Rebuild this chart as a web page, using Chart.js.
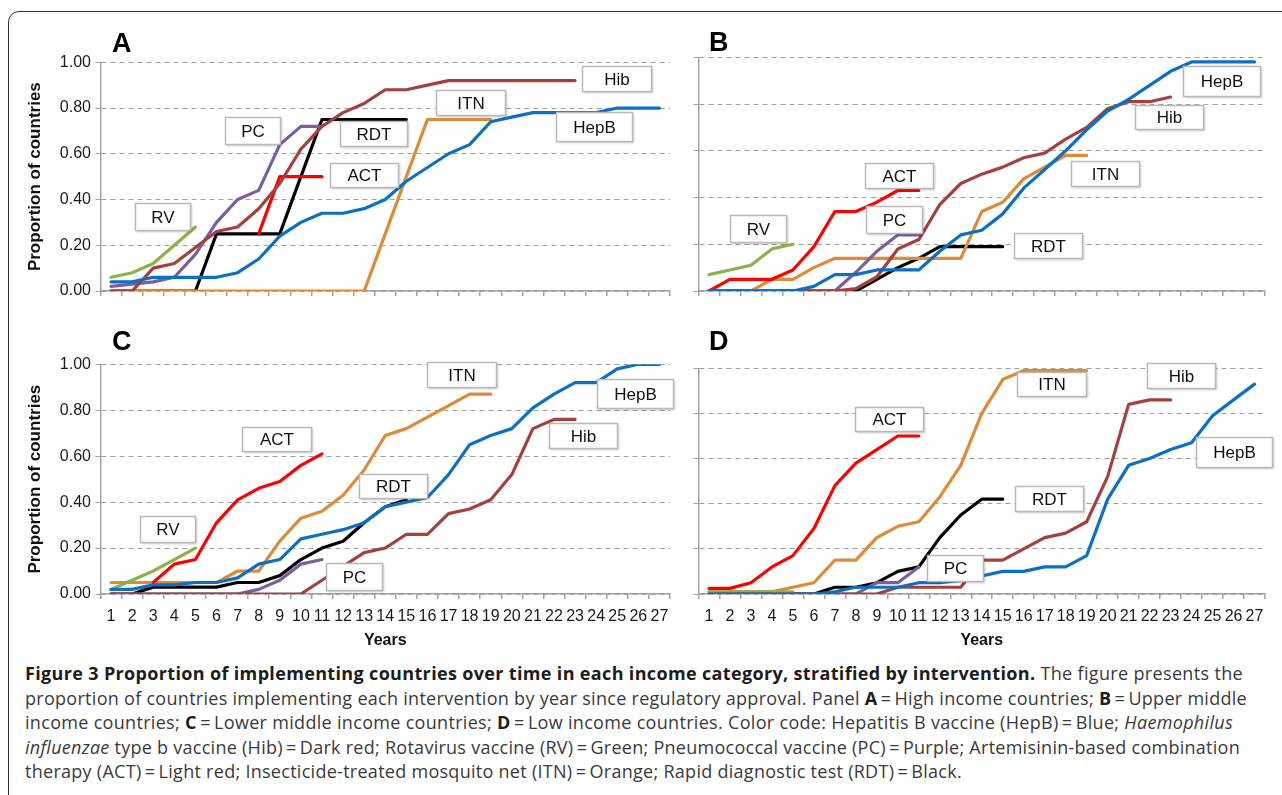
<!DOCTYPE html>
<html>
<head>
<meta charset="utf-8">
<script src="https://cdn.jsdelivr.net/npm/chart.js@4.4.1/dist/chart.umd.min.js"></script>
<style>
  html, body { margin: 0; padding: 0; background: #fff; }
  body { width: 1282px; height: 795px; position: relative; overflow: hidden; }
  .frame { position: absolute; left: 8px; top: 11px; width: 1400px; height: 900px;
           border: 1.5px solid #333; border-radius: 11px; }
  canvas { position: absolute; }
  .caption { position: absolute; left: 25px; top: 661px; font-family: 'Open Sans', sans-serif;
             font-size: 18px; color: #3a3a3a; line-height: 24.5px; }
  .caption span { display: inline-block; white-space: nowrap; }
  .caption b { color: #1c1c1c; }
</style>
</head>
<body>
<div class="frame"></div>
<canvas id="panelA"></canvas>
<canvas id="panelB"></canvas>
<canvas id="panelC"></canvas>
<canvas id="panelD"></canvas>
<div class="caption">
  <span><b>Figure 3 Proportion of implementing countries over time in each income category, stratified by intervention.</b> The figure presents the</span><br>
  <span>proportion of countries implementing each intervention by year since regulatory approval. Panel <b>A</b>&#8201;=&#8201;High income countries; <b>B</b>&#8201;=&#8201;Upper middle</span><br>
  <span>income countries; <b>C</b>&#8201;=&#8201;Lower middle income countries; <b>D</b>&#8201;=&#8201;Low income countries. Color code: Hepatitis B vaccine (HepB)&#8201;=&#8201;Blue; <i>Haemophilus</i></span><br>
  <span><i>influenzae</i> type b vaccine (Hib)&#8201;=&#8201;Dark red; Rotavirus vaccine (RV)&#8201;=&#8201;Green; Pneumococcal vaccine (PC)&#8201;=&#8201;Purple; Artemisinin-based combination</span><br>
  <span>therapy (ACT)&#8201;=&#8201;Light red; Insecticide-treated mosquito net (ITN)&#8201;=&#8201;Orange; Rapid diagnostic test (RDT)&#8201;=&#8201;Black.</span>
</div>
<script>
// Years since regulatory approval
const years = ['1', '2', '3', '4', '5', '6', '7', '8', '9', '10', '11', '12', '13', '14',
  '15', '16', '17', '18', '19', '20', '21', '22', '23', '24', '25', '26', '27'];
const yTicks = [0, 0.2, 0.4, 0.6, 0.8, 1.0];

// Panel A - high income
const hepbA = [0.04, 0.04, 0.06, 0.06, 0.06, 0.06, 0.08, 0.14, 0.24, 0.30, 0.34, 0.34, 0.36, 0.40,
  0.48, 0.54, 0.60, 0.64, 0.74, 0.76, 0.78, 0.78, 0.78, 0.78, 0.80, 0.80, 0.80];
const hibA = [0, 0, 0.10, 0.12, 0.19, 0.26, 0.28, 0.36, 0.47, 0.62, 0.72, 0.78, 0.82, 0.88, 0.88,
  0.90, 0.92, 0.92, 0.92, 0.92, 0.92, 0.92, 0.92];
const rvA = [0.06, 0.08, 0.12, 0.20, 0.28];
const pcA = [0.02, 0.03, 0.04, 0.06, 0.16, 0.30, 0.40, 0.44, 0.64, 0.72, 0.72];
const actA = [null, null, null, null, null, null, null, 0.25, 0.50, 0.50, 0.50];
const itnA = [0, 0, 0, 0, 0, 0, 0, 0, 0, 0, 0, 0, 0, 0.25, 0.50, 0.75, 0.75, 0.75, 0.75];
const rdtA = [0, 0, 0, 0, 0, 0.25, 0.25, 0.25, 0.25, 0.50, 0.75, 0.75, 0.75, 0.75, 0.75];

// Panel B - upper middle income
const hepbB = [0, 0, 0, 0, 0, 0.02, 0.07, 0.07, 0.09, 0.09, 0.09, 0.17, 0.24, 0.26, 0.33, 0.44,
  0.52, 0.60, 0.69, 0.77, 0.82, 0.88, 0.94, 0.98, 0.98, 0.98, 0.98];
const hibB = [0, 0, 0, 0, 0, 0, 0, 0.01, 0.06, 0.18, 0.22, 0.37, 0.46, 0.50, 0.53, 0.57, 0.59,
  0.65, 0.70, 0.78, 0.81, 0.81, 0.83];
const rvB = [0.07, 0.09, 0.11, 0.18, 0.20];
const pcB = [0, 0, 0, 0, 0, 0, 0, 0.08, 0.17, 0.24, 0.24];
const actB = [0, 0.05, 0.05, 0.05, 0.09, 0.19, 0.34, 0.34, 0.38, 0.43, 0.43];
const itnB = [null, null, 0, 0.05, 0.05, 0.10, 0.14, 0.14, 0.14, 0.14, 0.14, 0.14, 0.14, 0.34,
  0.38, 0.48, 0.53, 0.58, 0.58];
const rdtB = [0, 0, 0, 0, 0, 0, 0, 0, 0.05, 0.10, 0.14, 0.19, 0.19, 0.19, 0.19];

// Panel C - lower middle income
const hepbC = [0.02, 0.02, 0.04, 0.04, 0.05, 0.05, 0.07, 0.13, 0.15, 0.24, 0.26, 0.28, 0.31, 0.38,
  0.40, 0.42, 0.52, 0.65, 0.69, 0.72, 0.81, 0.87, 0.92, 0.92, 0.98, 1.00, 1.00];
const hibC = [0, 0, 0, 0, 0, 0, 0, 0, 0, 0, 0.06, 0.12, 0.18, 0.20, 0.26, 0.26, 0.35, 0.37, 0.41,
  0.52, 0.72, 0.76, 0.76];
const rvC = [0.02, 0.06, 0.10, 0.15, 0.20];
const pcC = [0, 0, 0, 0, 0, 0, 0, 0.02, 0.06, 0.13, 0.15];
const actC = [null, null, 0.05, 0.13, 0.15, 0.31, 0.41, 0.46, 0.49, 0.56, 0.61];
const itnC = [0.05, 0.05, 0.05, 0.05, 0.05, 0.05, 0.10, 0.10, 0.23, 0.33, 0.36, 0.43, 0.54, 0.69,
  0.72, 0.77, 0.82, 0.87, 0.87];
const rdtC = [0, 0, 0.03, 0.03, 0.03, 0.03, 0.05, 0.05, 0.08, 0.15, 0.20, 0.23, 0.31, 0.38, 0.41];

// Panel D - low income
const hepbD = [0, 0, 0, 0, 0, 0, 0.01, 0.03, 0.03, 0.03, 0.05, 0.05, 0.06, 0.08, 0.10, 0.10, 0.12,
  0.12, 0.17, 0.42, 0.57, 0.60, 0.64, 0.67, 0.79, 0.86, 0.93];
const hibD = [0, 0, 0, 0, 0, 0, 0, 0, 0, 0.03, 0.03, 0.03, 0.03, 0.15, 0.15, 0.20, 0.25, 0.27,
  0.32, 0.52, 0.84, 0.86, 0.86];
const rvD = [0.01, 0.01, 0.01, 0.01, 0.01];
const pcD = [0, 0, 0, 0, 0, 0, 0, 0, 0.05, 0.05, 0.12];
const actD = [0.025, 0.025, 0.05, 0.12, 0.17, 0.29, 0.48, 0.58, 0.64, 0.70, 0.70];
const itnD = [0.01, 0.01, 0.01, 0.01, 0.03, 0.05, 0.15, 0.15, 0.25, 0.30, 0.32, 0.43, 0.57, 0.80,
  0.95, 0.99, 0.99, 0.99, 0.99];
const rdtD = [0, 0, 0, 0, 0, 0, 0.03, 0.03, 0.05, 0.10, 0.12, 0.25, 0.35, 0.42, 0.42];

const FONT = '"Liberation Sans", Arial, sans-serif';
const AXIS = '#a3a3a3';
const GRID = '#a0a0a0';

const COLORS = {
  HepB: '#0b70c3',
  Hib: '#a4403d',
  RV: '#8cb04c',
  PC: '#7b5ea1',
  ACT: '#ff0000',
  ITN: '#df8a36',
  RDT: '#000000'
};

/**
 * Build line datasets in drawing order (RDT ends up on top)
 */
function makeDatasets(series) {
  return Object.keys(COLORS).map(name => ({
    label: name,
    data: series[name],
    borderColor: COLORS[name],
    borderWidth: 3.2,
    pointRadius: 0,
    tension: 0,
    fill: false,
    borderJoinStyle: 'round',
    borderCapStyle: 'round'
  }));
}

// Panel letter and the boxed series names, placed in data units
const annotate = {
  id: 'annotate',
  afterDatasetsDraw(chart, args, opts) {
    const { ctx } = chart;
    const xs = chart.scales.x;
    const ys = chart.scales.y;
    ctx.save();
    ctx.font = 'bold 27px ' + FONT;
    ctx.fillStyle = '#000';
    ctx.textAlign = 'left';
    ctx.textBaseline = 'alphabetic';
    ctx.fillText(opts.letter, opts.letterX, opts.letterY);

    ctx.font = '17px ' + FONT;
    ctx.textAlign = 'center';
    ctx.textBaseline = 'middle';
    opts.boxes.forEach(([text, xi, yv, w, h]) => {
      const cx = xs.getPixelForValue(xi);
      const cy = ys.getPixelForValue(yv);
      const x0 = Math.round(cx - w / 2) + 0.5;
      const y0 = Math.round(cy - h / 2) + 0.5;
      ctx.save();
      ctx.shadowColor = 'rgba(0,0,0,0.22)';
      ctx.shadowBlur = 2;
      ctx.shadowOffsetX = 1.5;
      ctx.shadowOffsetY = 1.5;
      ctx.fillStyle = '#fff';
      ctx.fillRect(x0, y0, w, h);
      ctx.restore();
      ctx.strokeStyle = '#b9b9b9';
      ctx.lineWidth = 1.5;
      ctx.strokeRect(x0, y0, w, h);
      ctx.fillStyle = '#111';
      ctx.fillText(text, x0 + w / 2, y0 + h / 2 + 1);
    });
    ctx.restore();
  }
};

const panels = [
  {
    id: 'panelA', left: 0, top: 0, width: 680, height: 310,
    padTop: 62.3, padRight: 10, yWidth: 100.5, xHeight: 19, labels: false, yLabels: true,
    letter: 'A', letterX: 112, letterY: 52,
    series: { HepB: hepbA, Hib: hibA, RV: rvA, PC: pcA, ACT: actA, ITN: itnA, RDT: rdtA },
    boxes: [
      ['RV', 2.46, 0.325, 55, 27], ['PC', 6.72, 0.70, 55, 27], ['RDT', 12.46, 0.688, 67, 25],
      ['ACT', 11.99, 0.507, 68, 24], ['ITN', 17.05, 0.825, 69, 25], ['Hib', 23.94, 0.927, 69, 25],
      ['HepB', 22.9, 0.719, 76, 29]
    ]
  },
  {
    id: 'panelB', left: 680, top: 0, width: 602, height: 310,
    padTop: 57.3, padRight: 17, yWidth: 18.5, xHeight: 19, labels: false, yLabels: false,
    letter: 'B', letterX: 29, letterY: 51,
    series: { HepB: hepbB, Hib: hibB, RV: rvB, PC: pcB, ACT: actB, ITN: itnB, RDT: rdtB },
    boxes: [
      ['RV', 2.34, 0.266, 56, 27], ['ACT', 9.07, 0.494, 68, 25], ['PC', 8.80, 0.306, 56, 27],
      ['RDT', 16.15, 0.193, 68, 25], ['ITN', 18.88, 0.504, 68, 25], ['Hib', 21.91, 0.745, 68, 24],
      ['HepB', 24.45, 0.90, 77, 30]
    ]
  },
  {
    id: 'panelC', left: 0, top: 320, width: 680, height: 340,
    padTop: 44.3, padRight: 10, yWidth: 100.5, xHeight: 66, labels: true, yLabels: true,
    letter: 'C', letterX: 112, letterY: 30,
    series: { HepB: hepbC, Hib: hibC, RV: rvC, PC: pcC, ACT: actC, ITN: itnC, RDT: rdtC },
    boxes: [
      ['RV', 2.67, 0.283, 55, 26], ['ACT', 7.83, 0.675, 69, 24], ['ITN', 16.6, 0.954, 69, 25],
      ['RDT', 13.37, 0.471, 68, 24], ['HepB', 24.85, 0.872, 76, 29], ['Hib', 22.38, 0.69, 68, 25],
      ['PC', 11.5, 0.077, 56, 27]
    ]
  },
  {
    id: 'panelD', left: 680, top: 320, width: 602, height: 340,
    padTop: 48.3, padRight: 17, yWidth: 18.5, xHeight: 66, labels: true, yLabels: false,
    letter: 'D', letterX: 29, letterY: 30,
    series: { HepB: hepbD, Hib: hibD, RV: rvD, PC: pcD, ACT: actD, ITN: itnD, RDT: rdtD },
    boxes: [
      ['ACT', 8.6, 0.774, 68, 24], ['ITN', 16.31, 0.93, 69, 24], ['Hib', 22.48, 0.966, 68, 25],
      ['HepB', 25.02, 0.63, 76, 30], ['RDT', 16.2, 0.425, 68, 25], ['PC', 11.72, 0.115, 56, 26]
    ]
  }
];

function renderPanel(p) {
  const canvas = document.getElementById(p.id);
  canvas.width = p.width;
  canvas.height = p.height;
  canvas.style.left = p.left + 'px';
  canvas.style.top = p.top + 'px';

  new Chart(canvas.getContext('2d'), {
    type: 'line',
    data: { labels: years, datasets: makeDatasets(p.series) },
    plugins: [annotate],
    options: {
      responsive: false,
      animation: false,
      events: [],
      layout: { padding: { left: 0, top: p.padTop, right: p.padRight, bottom: 0 } },
      plugins: {
        legend: { display: false },
        tooltip: { enabled: false },
        annotate: { letter: p.letter, letterX: p.letterX, letterY: p.letterY, boxes: p.boxes }
      },
      scales: {
        x: {
          type: 'category',
          offset: true,
          afterFit: s => { s.height = p.xHeight; },
          grid: { offset: true, drawOnChartArea: false, drawTicks: true, tickLength: 5, color: AXIS, lineWidth: 1.5 },
          border: { color: AXIS, width: 1.5 },
          ticks: {
            display: p.labels, autoSkip: false, maxRotation: 0, padding: 8,
            color: '#1a1a1a', font: { family: FONT, size: 16 }
          },
          title: {
            display: p.labels, text: 'Years', color: '#111',
            font: { family: FONT, size: 16, weight: 'bold' }, padding: { top: 0, bottom: 9.7 }
          }
        },
        y: {
          min: 0,
          max: 1,
          afterFit: s => { s.width = p.yWidth; },
          afterBuildTicks: s => { s.ticks = yTicks.map(v => ({ value: v })); },
          grid: { color: GRID, lineWidth: 1, tickLength: 5, tickColor: AXIS },
          border: { color: AXIS, width: 1.5, dash: [5, 4] },
          ticks: {
            display: p.yLabels, padding: 4.5, color: '#1a1a1a',
            font: { family: FONT, size: 16 },
            callback: v => Number(v).toFixed(2)
          },
          title: {
            display: p.yLabels, text: 'Proportion of countries', color: '#111',
            font: { family: FONT, size: 17, weight: 'bold' }, padding: { top: 24.8, bottom: 0 }
          }
        }
      }
    }
  });
}

// Spread the caption lines to the widths they have in the printed figure
function fitCaption() {
  const targets = [1218, 1222, 1208, 1215, 937];
  document.querySelectorAll('.caption span').forEach((line, i) => {
    const chars = line.textContent.length;
    const extra = targets[i] - line.getBoundingClientRect().width;
    line.style.letterSpacing = (extra / chars) + 'px';
  });
}

panels.forEach(renderPanel);
fitCaption();
</script>
</body>
</html>
